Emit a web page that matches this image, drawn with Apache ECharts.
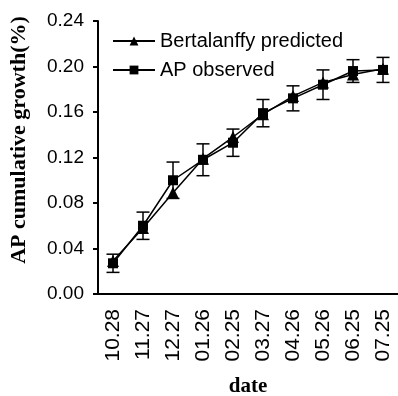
<!DOCTYPE html>
<html>
<head>
<meta charset="utf-8">
<script src="https://cdn.jsdelivr.net/npm/echarts@6/dist/echarts.min.js"></script>
<style>
  html, body { margin: 0; padding: 0; background: #fff; }
  #chart { width: 398px; height: 396px; }
</style>
</head>
<body>
<div id="chart"></div>
<script>
const dates = ["10.28", "11.27", "12.27", "01.26", "02.25", "03.27", "04.26", "05.26", "06.25", "07.25"];
const predicted = [0.029, 0.058, 0.089, 0.119, 0.138, 0.158, 0.174, 0.186, 0.193, 0.198];
const observed = [0.027, 0.060, 0.100, 0.118, 0.133, 0.159, 0.172, 0.184, 0.196, 0.197];
const observedErr = [0.008, 0.012, 0.016, 0.014, 0.012, 0.012, 0.011, 0.013, 0.010, 0.011];

const chart = echarts.init(document.getElementById("chart"));

const errData = observed.map((v, i) => [i, v - observedErr[i], v + observedErr[i]]);

chart.setOption({
  animation: false,
  backgroundColor: "#fff",
  grid: { left: 98, top: 21, width: 300, height: 273, outerBoundsMode: "none", containLabel: false },
  legend: {
    orient: "vertical",
    left: 107,
    top: 26,
    itemWidth: 42,
    itemHeight: 11,
    itemGap: 9,
    textStyle: { fontFamily: "Liberation Sans", fontSize: 20, color: "#000" },
    data: ["Bertalanffy predicted", "AP observed"]
  },
  xAxis: {
    type: "category",
    data: dates,
    name: "date",
    nameLocation: "middle",
    nameGap: 82,
    nameTextStyle: { fontFamily: "Liberation Serif", fontWeight: "bold", fontSize: 21, color: "#000" },
    axisLine: { lineStyle: { color: "#000", width: 2 } },
    axisTick: { length: 5, lineStyle: { color: "#000", width: 2 } },
    axisLabel: { rotate: 90, margin: 15, fontFamily: "Liberation Sans", fontSize: 21, color: "#000" },
    splitLine: { show: false }
  },
  yAxis: {
    type: "value",
    min: 0,
    max: 0.24,
    interval: 0.04,
    axisLine: { show: true, lineStyle: { color: "#000", width: 2 } },
    axisTick: { show: true, length: 5, lineStyle: { color: "#000", width: 2 } },
    axisLabel: { margin: 14, fontFamily: "Liberation Sans", fontSize: 19, color: "#000", formatter: v => v.toFixed(2) },
    splitLine: { show: false }
  },
  graphic: [{
    type: "text",
    x: 19,
    y: 140,
    rotation: Math.PI / 2,
    style: {
      text: "AP cumulative growth(%)",
      font: "bold 22px 'Liberation Serif'",
      fill: "#000",
      align: "center",
      verticalAlign: "middle"
    }
  }],
  series: [
    {
      name: "Bertalanffy predicted",
      type: "line",
      data: predicted,
      symbol: "triangle",
      symbolSize: 12,
      lineStyle: { color: "#000", width: 1.5 },
      itemStyle: { color: "#000" },
      z: 3
    },
    {
      name: "AP observed",
      type: "line",
      data: observed,
      symbol: "rect",
      symbolSize: 10,
      lineStyle: { color: "#000", width: 1.5 },
      itemStyle: { color: "#000" },
      z: 4
    },
    {
      name: "error",
      type: "custom",
      data: errData,
      encode: { x: 0, y: [1, 2] },
      z: 5,
      renderItem: function (params, api) {
        const x = api.coord([api.value(0), 0])[0];
        const lo = api.coord([api.value(0), api.value(1)])[1];
        const hi = api.coord([api.value(0), api.value(2)])[1];
        const w = 6.5;
        const st = { stroke: "#000", lineWidth: 1.5 };
        return {
          type: "group",
          children: [
            { type: "line", shape: { x1: x, y1: lo, x2: x, y2: hi }, style: st },
            { type: "line", shape: { x1: x - w, y1: lo, x2: x + w, y2: lo }, style: st },
            { type: "line", shape: { x1: x - w, y1: hi, x2: x + w, y2: hi }, style: st }
          ]
        };
      }
    }
  ]
});
</script>
</body>
</html>
